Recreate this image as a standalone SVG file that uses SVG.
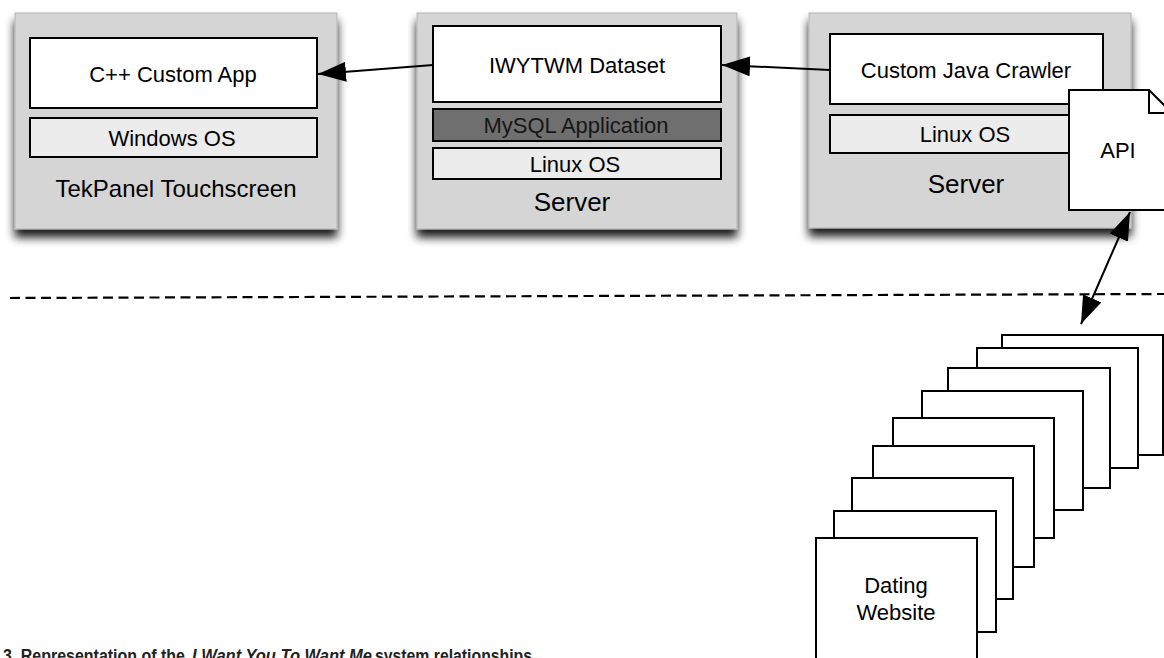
<svg xmlns="http://www.w3.org/2000/svg" width="1164" height="658" viewBox="0 0 1164 658">
<style>
  text { font-family: "Liberation Sans", Arial, Helvetica, sans-serif; fill: #000; }
  .t22 { font-size: 22px; text-anchor: middle; }
  .t24 { font-size: 24px; text-anchor: middle; }
  .t26 { font-size: 26px; text-anchor: middle; }
  .outer { fill: #d5d5d5; stroke: #b4b4b4; stroke-width: 1; }
  .white { fill: #ffffff; stroke: #000; stroke-width: 2; }
  .os { fill: #ececec; stroke: #000; stroke-width: 2; }
  .mysql { fill: #6f6f6f; stroke: #000; stroke-width: 2; }
  .page { fill: #ffffff; stroke: #000; stroke-width: 2; }
  .conn { stroke: #000; stroke-width: 2; fill: none; }
  .caption { font-family: "Liberation Sans Narrow", "Liberation Sans", Arial, sans-serif; font-weight: bold; font-size: 18px; fill: #222; }
</style>
<defs>
  <filter id="shadow" x="-10%" y="-10%" width="120%" height="130%">
    <feGaussianBlur in="SourceAlpha" stdDeviation="5"/>
    <feOffset dx="0" dy="8" result="b"/>
    <feComponentTransfer><feFuncA type="linear" slope="0.9"/></feComponentTransfer>
    <feMerge><feMergeNode/><feMergeNode in="SourceGraphic"/></feMerge>
  </filter>
  <marker id="arrow" viewBox="0 0 28 20" refX="28" refY="10" markerWidth="28" markerHeight="20" markerUnits="userSpaceOnUse" orient="auto-start-reverse">
    <path d="M0,0 L28,10 L0,20 Z" fill="#000"/>
  </marker>
</defs>
<rect width="1164" height="658" fill="#ffffff"/>

<g id="tekpanel">
  <rect class="outer" x="15" y="13" width="322" height="216" filter="url(#shadow)"/>
  <rect class="white" x="30" y="38" width="287" height="70"/>
  <text class="t22" x="173" y="82">C++ Custom App</text>
  <rect class="os" x="30" y="118" width="287" height="39"/>
  <text class="t22" x="172" y="146">Windows OS</text>
  <text class="t24" x="176" y="197">TekPanel Touchscreen</text>
</g>

<g id="server-db">
  <rect class="outer" x="417" y="13" width="320" height="216" filter="url(#shadow)"/>
  <rect class="white" x="433" y="26" width="288" height="76"/>
  <text class="t22" x="577" y="73">IWYTWM Dataset</text>
  <rect class="mysql" x="433" y="109" width="288" height="32"/>
  <text class="t22" x="576" y="133" style="fill:#161616">MySQL Application</text>
  <rect class="os" x="433" y="148" width="288" height="31"/>
  <text class="t22" x="575" y="172">Linux OS</text>
  <text class="t26" x="572" y="211">Server</text>
</g>

<g id="server-crawler">
  <rect class="outer" x="809" y="13" width="322" height="215" filter="url(#shadow)"/>
  <rect class="white" x="830" y="34" width="273" height="70"/>
  <text class="t22" x="966" y="78">Custom Java Crawler</text>
  <rect class="os" x="830" y="115" width="273" height="38"/>
  <text class="t22" x="965" y="142">Linux OS</text>
  <text class="t26" x="966" y="193">Server</text>
</g>

<g id="api">
  <path d="M1069,90 L1149,90 L1172,113 L1172,210 L1069,210 Z" fill="#ffffff" stroke="#000" stroke-width="2"/>
  <path d="M1149,90 L1149,113 L1172,113" fill="none" stroke="#000" stroke-width="2"/>
  <text class="t22" x="1118" y="158">API</text>
</g>

<g id="dating-websites">
  <rect class="page" x="1002" y="335" width="161" height="120"/>
  <rect class="page" x="977" y="348" width="161" height="120"/>
  <rect class="page" x="948" y="368" width="162" height="120"/>
  <rect class="page" x="922" y="391" width="161" height="119"/>
  <rect class="page" x="893" y="418" width="161" height="120"/>
  <rect class="page" x="873" y="446" width="161" height="121"/>
  <rect class="page" x="852" y="478" width="161" height="121"/>
  <rect class="page" x="834" y="511" width="162" height="121"/>
  <rect class="page" x="816" y="538" width="161" height="125"/>
  <text class="t22" x="896" y="593">Dating</text>
  <text class="t22" x="896" y="620">Website</text>
</g>

<g id="connectors">
  <line class="conn" x1="433" y1="65" x2="318" y2="74" marker-end="url(#arrow)"/>
  <line class="conn" x1="830" y1="70" x2="722" y2="65" marker-end="url(#arrow)"/>
  <line class="conn" x1="1130" y1="212" x2="1081" y2="324" marker-start="url(#arrow)" marker-end="url(#arrow)"/>
  <line x1="10" y1="298" x2="1164" y2="294" stroke="#000" stroke-width="2.2" stroke-dasharray="10,5.5"/>
</g>

<g id="caption">
  <text class="caption" x="3" y="662" textLength="182" lengthAdjust="spacingAndGlyphs">3. Representation of the</text>
  <text class="caption" x="192" y="662" font-style="italic" textLength="180" lengthAdjust="spacingAndGlyphs">I Want You To Want Me</text>
  <text class="caption" x="375" y="662" textLength="157" lengthAdjust="spacingAndGlyphs">system relationships</text>
</g>
</svg>
